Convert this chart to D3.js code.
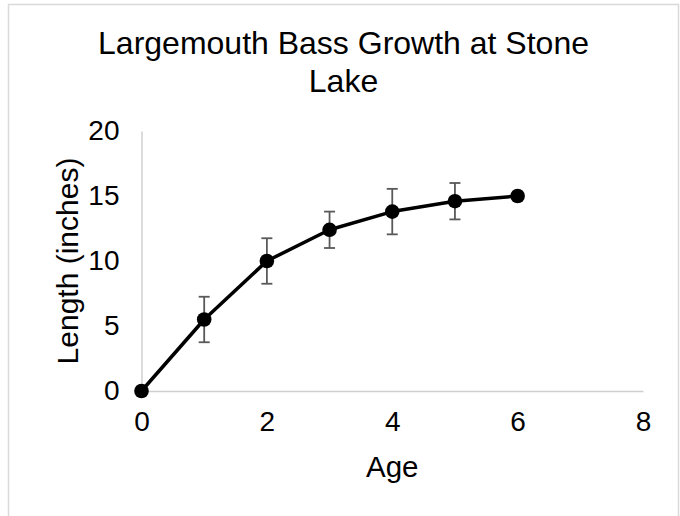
<!DOCTYPE html>
<html>
<head>
<meta charset="utf-8">
<script src="https://cdn.jsdelivr.net/npm/d3@7"></script>
<style>
  html, body { margin: 0; padding: 0; background: #fff; }
  svg { display: block; font-family: "Liberation Sans", Arial, sans-serif; }
</style>
</head>
<body>
<svg id="chart" width="680" height="516"></svg>
<script>
const ages = [0, 1, 2, 3, 4, 5, 6];
const lengths = [0, 5.5, 10, 12.4, 13.8, 14.6, 15];
const errors = [0, 1.75, 1.75, 1.4, 1.75, 1.4, 0];
const xTicks = [0, 2, 4, 6, 8];
const yTicks = [0, 5, 10, 15, 20];
const titleLines = ["Largemouth Bass Growth at Stone", "Lake"];
const xTitle = "Age";
const yTitle = "Length (inches)";

const svg = d3.select("#chart");
const W = 680, H = 516;
const margin = {left: 141.5, right: 37, top: 131, bottom: 125};

const x = d3.scaleLinear().domain([0, 8]).range([margin.left, W - margin.right]);
const y = d3.scaleLinear().domain([0, 20]).range([H - margin.bottom, margin.top]);

// outer border
svg.append("rect")
  .attr("x", 8.5).attr("y", 4.5)
  .attr("width", 670).attr("height", 530)
  .attr("fill", "none").attr("stroke", "#d9d9d9").attr("stroke-width", 1.5);

// title
const title = svg.append("text")
  .attr("text-anchor", "middle")
  .attr("font-size", 32)
  .attr("fill", "#000");
titleLines.forEach((t, i) => {
  title.append("tspan").attr("x", 343.5).attr("y", 54 + i * 38).text(t);
});

// axes
const xAxis = d3.axisBottom(x).tickValues(xTicks).tickSize(0).tickPadding(20).tickFormat(d3.format("d"));
const yAxis = d3.axisLeft(y).tickValues(yTicks).tickSize(0).tickPadding(22).tickFormat(d3.format("d"));

const gx = svg.append("g").attr("transform", `translate(0,${y(0)})`).call(xAxis);
const gy = svg.append("g").attr("transform", `translate(${x(0)},0)`).call(yAxis);

[gx, gy].forEach(g => {
  g.select(".domain").attr("stroke", "#d0d0d0").attr("stroke-width", 1.5);
  g.selectAll("text").attr("font-size", 28).attr("fill", "#000")
    .attr("font-family", "'Liberation Sans', Arial, sans-serif");
});
gx.selectAll("text").attr("dy", "0.71em");

// axis titles
svg.append("text")
  .attr("x", (x(0) + x(8)) / 2).attr("y", 477)
  .attr("text-anchor", "middle").attr("font-size", 29.5).attr("fill", "#000")
  .text(xTitle);

svg.append("text")
  .attr("transform", `translate(78,${(y(0) + y(20)) / 2}) rotate(-90)`)
  .attr("text-anchor", "middle").attr("font-size", 30).attr("fill", "#000")
  .text(yTitle);

const data = ages.map((a, i) => ({age: a, len: lengths[i], err: errors[i]}));

// error bars
const eb = svg.append("g").attr("stroke", "#595959").attr("stroke-width", 1.8).attr("fill", "none");
data.filter(d => d.err > 0).forEach(d => {
  const cx = x(d.age), y1 = y(d.len + d.err), y2 = y(d.len - d.err);
  eb.append("line").attr("x1", cx).attr("x2", cx).attr("y1", y1).attr("y2", y2);
  eb.append("line").attr("x1", cx - 5.5).attr("x2", cx + 5.5).attr("y1", y1).attr("y2", y1);
  eb.append("line").attr("x1", cx - 5.5).attr("x2", cx + 5.5).attr("y1", y2).attr("y2", y2);
});

// line
svg.append("path")
  .datum(data)
  .attr("fill", "none").attr("stroke", "#000").attr("stroke-width", 3.5)
  .attr("stroke-linejoin", "round")
  .attr("d", d3.line().x(d => x(d.age)).y(d => y(d.len)));

// markers
svg.append("g").selectAll("circle").data(data).join("circle")
  .attr("cx", d => x(d.age)).attr("cy", d => y(d.len))
  .attr("r", 7.3).attr("fill", "#000");
</script>
</body>
</html>
